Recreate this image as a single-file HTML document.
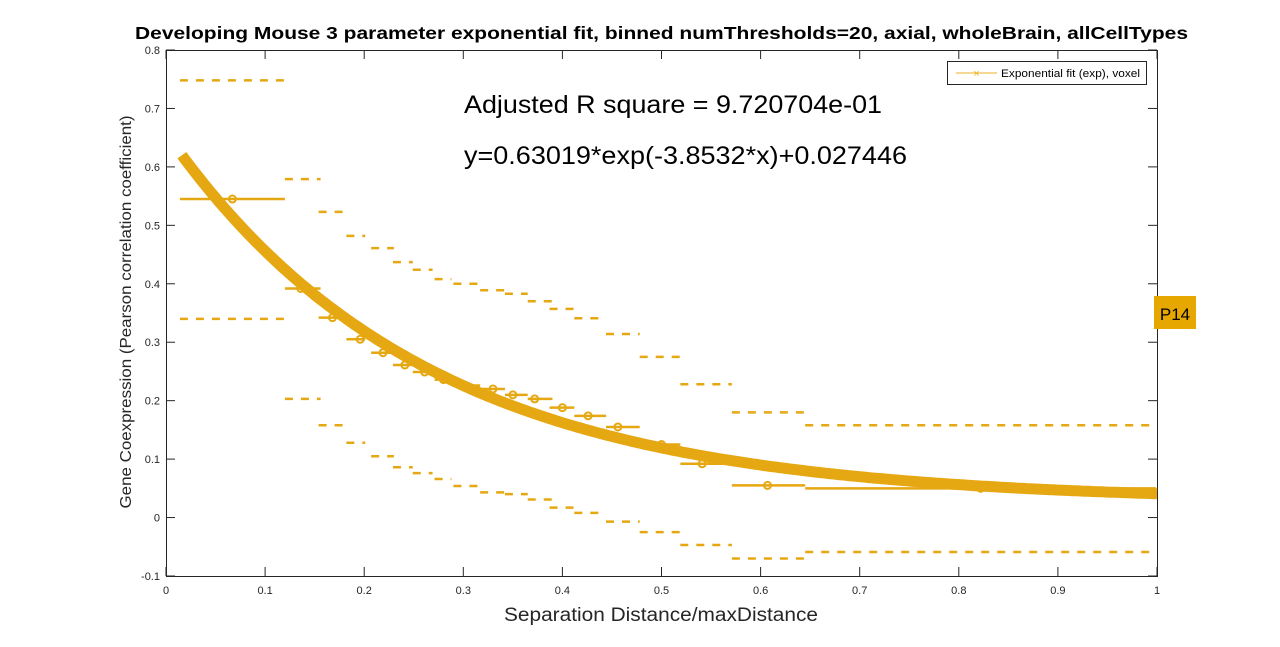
<!DOCTYPE html>
<html><head><meta charset="utf-8"><style>
html,body{margin:0;padding:0;background:#fff;}
svg{display:block;font-family:"Liberation Sans",Arial,sans-serif;}
</style></head><body>
<svg id="chart" width="1280" height="647" viewBox="0 0 1280 647">
<rect width="1280" height="647" fill="#fff"/>
<text x="135" y="39" textLength="1053" lengthAdjust="spacingAndGlyphs" font-size="17.5" font-weight="bold" fill="#000">Developing Mouse 3 parameter exponential fit, binned numThresholds=20, axial, wholeBrain, allCellTypes</text>
<g id="plot"></g>
<text x="504" y="621" textLength="314" lengthAdjust="spacingAndGlyphs" font-size="19" fill="#262626">Separation Distance/maxDistance</text>
<text transform="translate(131,312) rotate(-90)" text-anchor="middle" textLength="393" lengthAdjust="spacingAndGlyphs" font-size="16" fill="#262626">Gene Coexpression (Pearson correlation coefficient)</text>
<text x="464" y="113" textLength="418" lengthAdjust="spacingAndGlyphs" font-size="25" fill="#000">Adjusted R square = 9.720704e-01</text>
<text x="464" y="164" textLength="443" lengthAdjust="spacingAndGlyphs" font-size="25" fill="#000">y=0.63019*exp(-3.8532*x)+0.027446</text>
<g>
<rect x="947.5" y="61.5" width="199" height="23" fill="#fff" stroke="#262626" stroke-width="1"/>
<line x1="956" y1="73" x2="997" y2="73" stroke="#EDB120" stroke-width="1"/>
<text x="976.5" y="77" text-anchor="middle" font-size="11" fill="#EDB120">×</text>
<text x="1001" y="77" textLength="139" lengthAdjust="spacingAndGlyphs" font-size="11" fill="#000">Exponential fit (exp), voxel</text>
</g>
<g>
<rect x="1154" y="296" width="42" height="33" fill="#E6A800"/>
<text x="1175" y="320" text-anchor="middle" font-size="17" fill="#000">P14</text>
</g>
</svg>
<script>
const binLeft  = [0.014,0.12,0.154,0.182,0.207,0.229,0.249,0.271,0.29,0.317,0.342,0.365,0.387,0.412,0.444,0.478,0.519,0.571,0.645];
const binRight = [0.12,0.156,0.18,0.201,0.23,0.249,0.269,0.288,0.317,0.342,0.365,0.39,0.412,0.444,0.478,0.519,0.571,0.645,0.999];
const binCenter= [0.067,0.136,0.168,0.196,0.219,0.241,0.261,0.28,0.3,0.33,0.35,0.372,0.40,0.426,0.456,0.5,0.541,0.607,0.822];
const binMean  = [0.545,0.392,0.342,0.305,0.282,0.261,0.249,0.236,0.226,0.22,0.21,0.203,0.188,0.174,0.155,0.125,0.092,0.055,0.05];
const binUpper = [0.748,0.579,0.523,0.482,0.461,0.437,0.424,0.408,0.4,0.389,0.383,0.37,0.357,0.341,0.314,0.275,0.228,0.18,0.158];
const binLower = [0.340,0.203,0.158,0.128,0.105,0.086,0.076,0.066,0.054,0.043,0.04,0.031,0.017,0.008,-0.007,-0.025,-0.047,-0.07,-0.059];
const fitA = 0.63019, fitB = -3.8532, fitC = 0.027446;
const xTicks = [0,0.1,0.2,0.3,0.4,0.5,0.6,0.7,0.8,0.9,1];
const xTickLabels = ["0","0.1","0.2","0.3","0.4","0.5","0.6","0.7","0.8","0.9","1"];
const yTicks = [-0.1,0,0.1,0.2,0.3,0.4,0.5,0.6,0.7,0.8];
const yTickLabels = ["-0.1","0","0.1","0.2","0.3","0.4","0.5","0.6","0.7","0.8"];

const NS="http://www.w3.org/2000/svg";
const L=166,R=1157,T=50,B=576;
const xs=v=>L+(v-0)/(1-0)*(R-L);
const ys=v=>B-(v+0.1)/(0.9)*(B-T);
const g=document.getElementById('plot');
const C="#E6A812";
function mk(tag,attrs,parent){const e=document.createElementNS(NS,tag);for(const k in attrs)e.setAttribute(k,attrs[k]);(parent||g).appendChild(e);return e;}

const box=mk('rect',{x:L+0.5,y:T+0.5,width:R-L,height:B-T,fill:'none',stroke:'#262626','stroke-width':1});



xTicks.forEach((t,i)=>{
  const x=xs(t);
  mk('line',{x1:x,y1:B,x2:x,y2:B-9,stroke:'#262626'});
  mk('line',{x1:x,y1:T,x2:x,y2:T+9,stroke:'#262626'});
  const tx=mk('text',{x:x,y:B+18,'text-anchor':'middle','font-size':11,fill:'#262626'});
  tx.textContent=xTickLabels[i];
  
  
});
yTicks.forEach((t,i)=>{
  const y=ys(t);
  mk('line',{x1:L,y1:y,x2:L+9,y2:y,stroke:'#262626'});
  mk('line',{x1:R,y1:y,x2:R-9,y2:y,stroke:'#262626'});
  const tx=mk('text',{x:L-6,y:y+4,'text-anchor':'end','font-size':11,fill:'#262626'});
  tx.textContent=yTickLabels[i];
  
  
});

binLeft.forEach((l,i)=>{
  const u=mk('line',{x1:xs(l),x2:xs(binRight[i]),y1:ys(binUpper[i]),y2:ys(binUpper[i]),stroke:C,'stroke-width':2.5,'stroke-dasharray':'8,8'});
  
  
  const lo=mk('line',{x1:xs(l),x2:xs(binRight[i]),y1:ys(binLower[i]),y2:ys(binLower[i]),stroke:C,'stroke-width':2.5,'stroke-dasharray':'8,8'});
  
  
});
let d='';
for(let k=0;k<=300;k++){const x=0.016+(1-0.016)*k/300;const y=fitA*Math.exp(fitB*x)+fitC;d+=(k?'L':'M')+xs(x).toFixed(1)+','+ys(y).toFixed(1);}
const fc=mk('path',{d:d,fill:'none',stroke:C,'stroke-width':11,'stroke-linecap':'butt'});


binCenter.forEach((c,i)=>{
  const y=ys(binMean[i]);
  const h=mk('line',{x1:xs(binLeft[i]),x2:xs(binRight[i]),y1:y,y2:y,stroke:C,'stroke-width':2.5});
  
  
  const p=mk('circle',{cx:xs(c),cy:y,r:3.5,fill:'none',stroke:C,'stroke-width':2});
  
  
});
</script>
</body></html>
